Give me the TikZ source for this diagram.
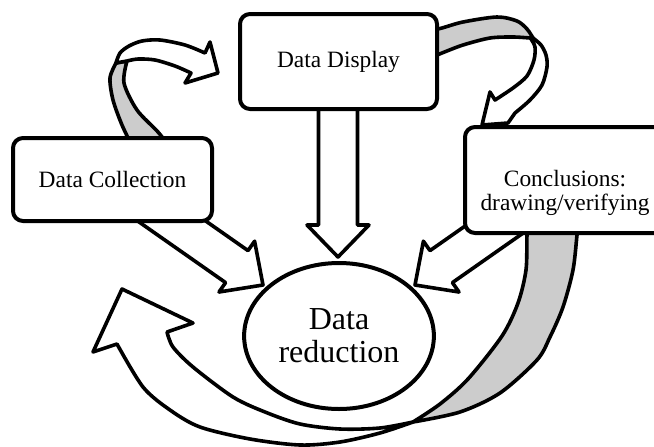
\documentclass[tikz,border=0pt]{standalone}
\usepackage{fontspec}
\setmainfont{Liberation Serif}
\usetikzlibrary{shapes.geometric}

\begin{document}
\begin{tikzpicture}[x=0.5pt, y=-0.5pt, line join=round,
  box/.style={draw, line width=2pt, fill=white, rounded corners=5pt, font=\fontsize{11.7}{12}\selectfont},
  boxtext/.style={font=\fontsize{11.7}{12}\selectfont, align=center},
  blockarrow/.style={draw, line width=1.8pt, fill=white},
  backside/.style={draw, line width=1.8pt, fill=black!20}]
\useasboundingbox (0,0) rectangle (654,446);
\clip (0,0) rectangle (654,446);
%ribbon Collection -> Display
\draw[backside] plot[smooth] coordinates {(134,150) (122,125) (113,100) (110,78) (116,63)}
  -- plot[smooth] coordinates {(127,61) (124,83) (137,110) (158,132) (172,150)} -- cycle;
\draw[blockarrow] plot[smooth] coordinates {(116,63) (120,53) (129,46) (142,41) (160,40) (185,45) (205,53)}
  -- (210,42) -- (218,73) -- (185,83) -- (191,73)
  -- plot[smooth] coordinates {(191,73) (175,66) (155,60) (138,59) (127,61)} -- cycle;
%ribbon Display -> Conclusions
\draw[backside] plot[smooth] coordinates {(425,32) (442,28) (463,22) (497,17) (517,21) (527,29) (533,38)}
  -- plot[smooth] coordinates {(530,38) (513,37) (490,38) (463,45) (442,53) (425,60)} -- cycle;
\draw[blockarrow] plot[smooth] coordinates {(533,38) (541,45) (546,55) (547,67) (542,85) (530,100) (515,113)}
  -- (508,123) -- (482,125) -- (490,92) -- (495,100)
  -- plot[smooth] coordinates {(495,100) (513,88) (527,76) (534,60) (535,47) (531,39)} -- cycle;
%ribbon Conclusions -> back round
\draw[backside] plot[smooth] coordinates {(529,215) (527,235) (526,270) (518,303) (502,336) (468,379) (440,404) (413,422)}
  -- plot[smooth] coordinates {(413,422) (460,412) (500,393) (537,360) (550,337) (563,307) (573,270) (577,235) (579,215)} -- cycle;
\draw[blockarrow] plot[smooth] coordinates {(413,422) (380,428) (340,429) (300,424) (265,412) (233,397) (193,367) (173,347) (167,332)}
  -- (193,323) -- (122,289) -- (93,352) -- (117,344)
  -- plot[smooth] coordinates {(117,344) (143,387) (170,410) (200,427) (250,439) (300,445) (340,442) (380,433) (413,422)} -- cycle;
%straight arrows into Data reduction
\draw[blockarrow] (318.5,90) -- (318.5,225) -- (307,225) -- (338,257) -- (369,225) -- (357.5,225) -- (357.5,90) -- cycle;
\draw[blockarrow] (141.5,176) -- (248,250.6) -- (254.6,241.2) -- (263,285) -- (219,292) -- (225.6,282.6) -- (119.1,208) -- cycle;
\draw[blockarrow] (536.5,176) -- (430,250.6) -- (423.4,241.2) -- (415,285) -- (459,292) -- (452.4,282.6) -- (558.9,208) -- cycle;
%boxes
\node[box, minimum width=98.5pt, minimum height=47.5pt] (disp) at (338.5,61.5) {Data Display};
\node[box, minimum width=99.5pt, minimum height=41.5pt] (coll) at (112.5,179.5) {Data Collection};
\node[box, minimum width=100pt, minimum height=53pt] (conc) at (565,180) {};
\node[boxtext] (conctext) at (565,193) {Conclusions:\\drawing/verifying};
%Data reduction
\node[draw, ellipse, line width=2pt, fill=white, minimum width=91pt, minimum height=73pt,
  font=\fontsize{16}{16.5}\selectfont, align=center] (red) at (339,336) {Data\\reduction};
\end{tikzpicture}
\end{document}
